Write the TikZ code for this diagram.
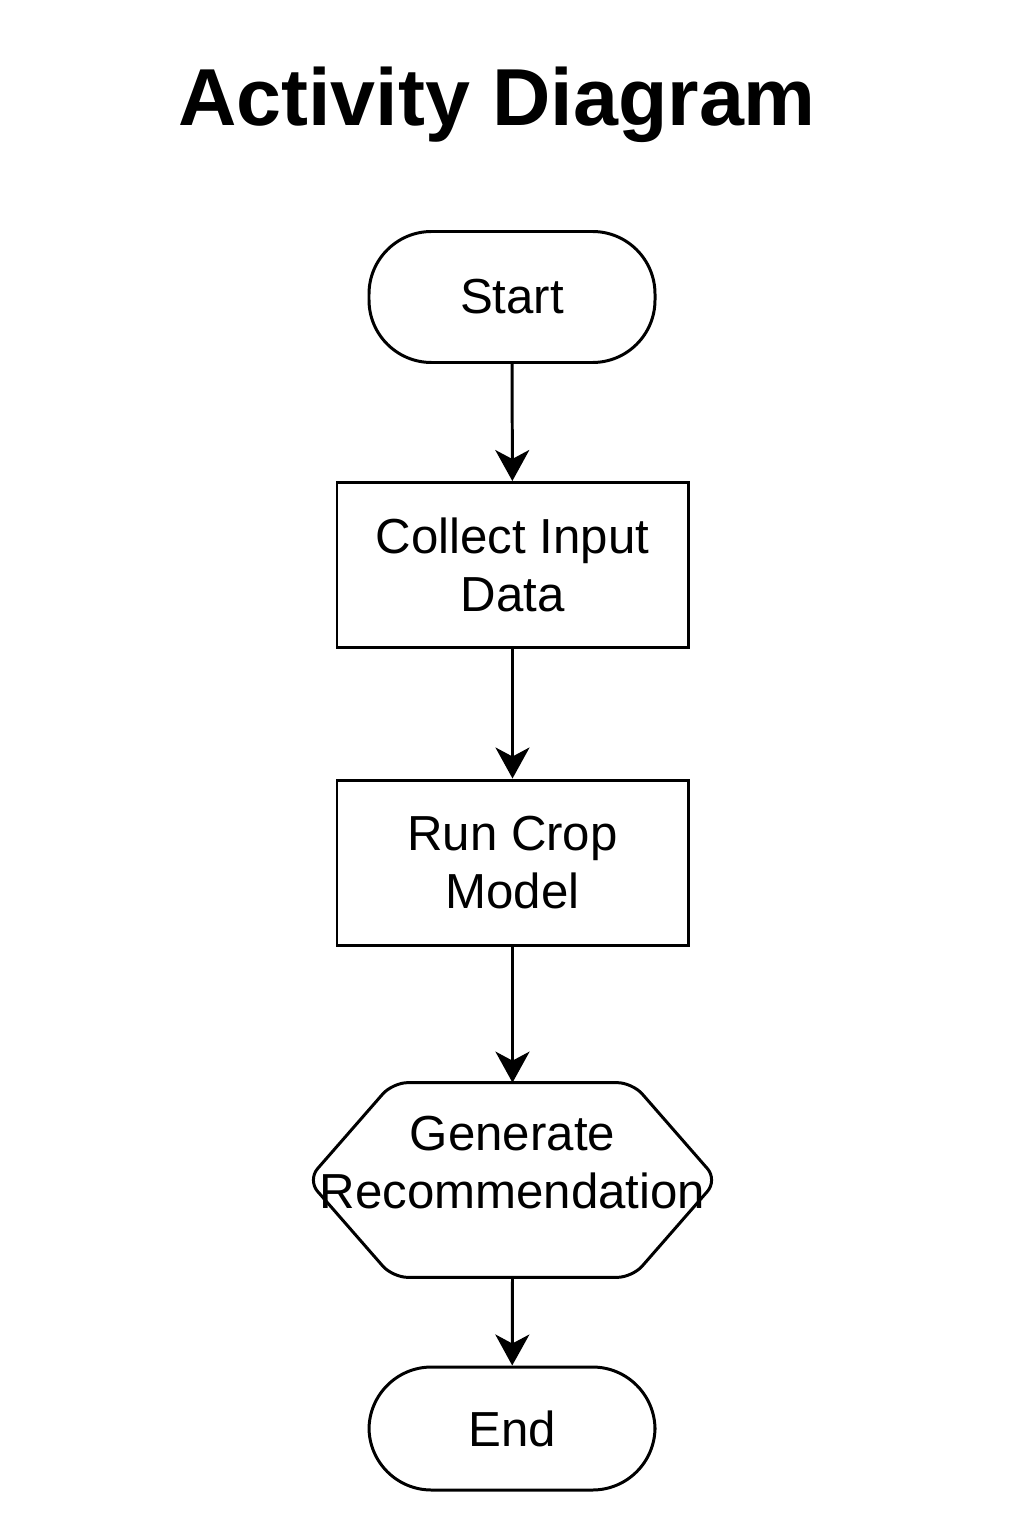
\documentclass[tikz,border=0pt]{standalone}
\usepackage{fontspec}
\setmainfont{Liberation Sans}
\usetikzlibrary{arrows.meta}
\tikzset{
  line/.style={line width=1.7pt},
  arr/.style={line, -{Stealth[length=0.62cm,width=0.68cm,inset=0.18cm]}},
  txt/.style={align=center, font=\fontsize{28}{33}\selectfont},
  terminal/.style={txt, draw, line, rounded corners=1.25cm, minimum width=5.72cm},
  activity/.style={txt, draw, line, minimum width=7.02cm, minimum height=3.3cm},
  hexnode/.style={txt, text depth=0.7cm, minimum width=8.18cm, minimum height=3.88cm}
}
\begin{document}
\begin{tikzpicture}
\useasboundingbox (0,0) rectangle (20.48,-30.72);
\node[anchor=base, font=\fontsize{46}{50}\selectfont\bfseries] (title) at (9.94,-2.52) {Activity Diagram};

\node[terminal, minimum height=2.62cm] (start) at (10.24,-5.94) {Start};
\node[activity] (collect) at (10.25,-11.3) {Collect Input\\Data};
\node[activity] (run) at (10.25,-17.25) {Run Crop\\Model};
\node[hexnode] (gen) at (10.25,-23.6) {Generate\\Recommendation};
\draw[line, rounded corners=0.3cm] (gen.west) -- ([xshift=1.7cm]gen.north west) -- ([xshift=-1.7cm]gen.north east)
  -- (gen.east) -- ([xshift=-1.7cm]gen.south east) -- ([xshift=1.7cm]gen.south west) -- cycle;
\node[terminal, minimum height=2.46cm] (end) at (10.24,-28.57) {End};

\draw[arr] (start) -- (collect);
\draw[arr] (collect) -- (run);
\draw[arr] (run) -- (gen.north);
\draw[arr] (gen.south) -- (end);
\end{tikzpicture}
\end{document}
